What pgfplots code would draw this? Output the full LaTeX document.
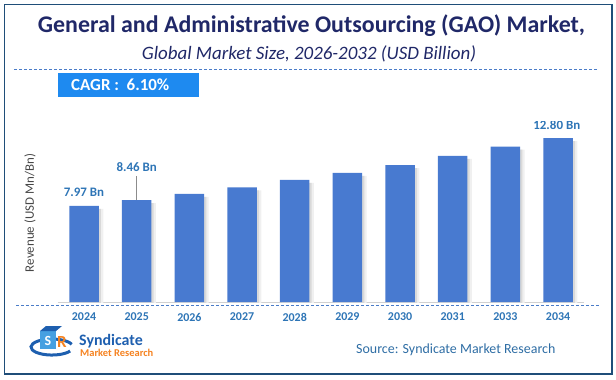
\documentclass[border=0pt]{standalone}
\usepackage{pgfplots}
\pgfplotsset{compat=1.18}
\usepackage{pgfplotstable}
\usepackage{fontspec}
\setmainfont{Carlito}
\definecolor{navy}{RGB}{32,40,104}
\definecolor{barblue}{RGB}{72,122,208}
\definecolor{lblblue}{RGB}{46,117,182}
\definecolor{cagr}{RGB}{30,138,240}
\definecolor{frame}{RGB}{31,78,121}
\definecolor{dashc}{RGB}{74,124,200}
\definecolor{src}{RGB}{46,109,164}
\definecolor{orangeL}{RGB}{245,130,32}
\definecolor{logoblue}{RGB}{30,95,175}
\definecolor{logolight}{RGB}{70,160,225}

\pgfplotstableread{
x y
0 7.97
1 8.46
2 8.97
3 9.51
4 10.13
5 10.71
6 11.37
7 12.14
8 12.89
9 13.61
}\gaodata

\begin{document}
\begin{tikzpicture}[x=1bp,y=1bp]
\useasboundingbox (0,0) rectangle (616,379);
\draw[frame, line width=1.3bp] (4.7,5) rectangle (612,374.3);
\node[font=\fontsize{24}{28}\selectfont\bfseries, text=navy, anchor=base] at (311.5,347) {General and Administrative Outsourcing (GAO) Market,};
\node[font=\fontsize{19}{22}\selectfont\itshape, text=navy, anchor=base] at (309,320) {Global Market Size, 2026-2032 (USD Billion)};
\draw[dashc, line width=1bp, dash pattern=on 3bp off 2bp] (14,310) -- (599,310);
\fill[cagr] (58,282) rectangle (199,306);
\node[font=\fontsize{17}{20}\selectfont\bfseries, text=white, anchor=west, inner sep=0] at (71,294) {CAGR :\ \ 6.10\%};

\begin{axis}[
  at={(57.7bp,77bp)}, anchor=south west,
  scale only axis, width=526.7bp, height=180.7bp,
  xmin=-0.5, xmax=9.5, ymin=0, ymax=15,
  axis y line=none, axis x line*=bottom,
  x axis line style={draw=black!18, line width=1bp, -},
  xtick={0,...,9},
  xticklabels={2024,2025,2026,2027,2028,2029,2030,2031,2033,2034},
  major tick length=0pt,
  xticklabel style={font=\fontsize{12}{14}\selectfont\bfseries, text=lblblue, anchor=center, yshift=-15bp},
]
\addplot[ybar, bar width=29.5bp, bar shift=4.5bp, fill=black!6, draw=none, yshift=-3bp] table {\gaodata};
\addplot[ybar, bar width=29.5bp, bar shift=2.2bp, fill=black!15, draw=none, yshift=-3bp] table {\gaodata};
\addplot[ybar, bar width=29.5bp, bar shift=0pt, fill=barblue, draw=none] table {\gaodata};
\node[font=\fontsize{13}{15}\selectfont\bfseries, text=lblblue, yshift=14bp] at (axis cs:0,7.97) {7.97 Bn};
\draw[black!45, line width=0.7bp] (axis cs:1,8.46) -- ([yshift=24.3bp]axis cs:1,8.46);
\node[font=\fontsize{13}{15}\selectfont\bfseries, text=lblblue, yshift=33.5bp] at (axis cs:1,8.46) {8.46 Bn};
\node[font=\fontsize{13}{15}\selectfont\bfseries, text=lblblue, yshift=13bp, xshift=-1.3bp] at (axis cs:9,13.61) {12.80 Bn};
\end{axis}

\draw[dashc, line width=1bp, dash pattern=on 3bp off 2bp] (16,73.3) -- (601,73.3);
\node[rotate=90, font=\fontsize{13}{15}\selectfont, text=black!72] at (30,166) {Revenue (USD Mn/Bn)};
\node[anchor=base west, font=\fontsize{14}{16}\selectfont, text=src, inner sep=0] at (356,26) {Source: Syndicate Market Research};

% logo
\draw[logoblue, line width=3bp] (71.7,34.7) arc[start angle=20, end angle=330, x radius=21, y radius=8];
\fill[logolight] (40,30) rectangle (56,48);
\fill[logoblue] (40,48) -- (46,53) -- (62,53) -- (56,48) -- cycle;
\node[font=\fontsize{14}{16}\selectfont\bfseries, text=white] at (48,38) {S};
\node[font=\fontsize{17}{19}\selectfont\bfseries, text=orangeL] at (62,37) {R};
\node[anchor=base west, font=\fontsize{16}{18}\selectfont\bfseries, text=logoblue, inner sep=0] at (79,34) {Syndicate};
\node[anchor=base west, font=\fontsize{10.5}{12}\selectfont\bfseries, text=orangeL, inner sep=0] at (80,23) {Market Research};
\end{tikzpicture}
\end{document}
